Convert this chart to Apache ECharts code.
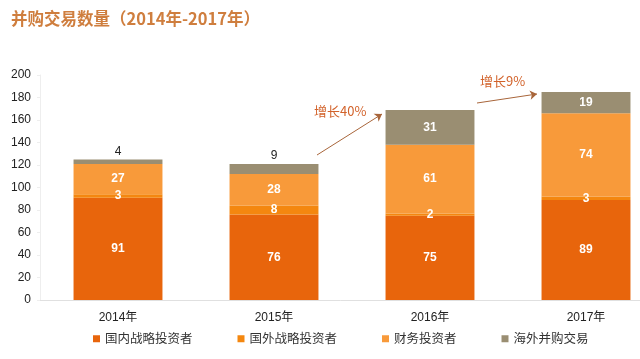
<!DOCTYPE html>
<html><head><meta charset="utf-8">
<script src="https://cdn.jsdelivr.net/npm/echarts@6/dist/echarts.min.js"></script>
<style>html,body{margin:0;padding:0;background:#fff}#c{width:640px;height:359px}</style>
</head><body><div id="c"></div>
<script>
const categories = ['2014年', '2015年', '2016年', '2017年'];
const domesticStrategic = [91, 76, 75, 89];
const foreignStrategic = [3, 8, 2, 3];
const financial = [27, 28, 61, 74];
const overseas = [4, 9, 31, 19];
const seriesNames = ['国内战略投资者', '国外战略投资者', '财务投资者', '海外并购交易'];
const colors = ['#E8650C', '#F4870F', '#F89A3A', '#9A8E72'];
const yTicks = {min: 0, max: 200, interval: 20};

const chart = echarts.init(document.getElementById('c'));
const allData = [domesticStrategic, foreignStrategic, financial, overseas];
const series = allData.map((arr, i) => ({
  name: seriesNames[i],
  type: 'bar',
  stack: 'total',
  barWidth: '57%',
  itemStyle: {color: colors[i]},
  label: {show: true, position: 'inside', color: '#fff', fontSize: 12, fontFamily: 'Liberation Sans, Arial', fontWeight: 'bold'},
  data: arr.map(v => (i === 3 && v < 10) ? {value: v, label: {position: 'top', color: '#222', fontWeight: 'normal', distance: 2}} : v)
}));
series[0].markLine = {
  silent: true,
  symbol: ['none', 'arrow'],
  symbolSize: 7,
  lineStyle: {color: '#A8653A', type: 'solid', width: 1},
  label: {show: false},
  data: [
    [{x: 317, y: 155}, {x: 382, y: 114}],
    [{x: 477, y: 103}, {x: 537, y: 94}]
  ]
};
chart.setOption({
  animation: false,
  title: {
    text: '并购交易数量（2014年-2017年）', left: 6, top: 5,
    textStyle: {color: '#CF7E3E', fontSize: 16.5, fontWeight: 'bold', fontFamily: 'Noto Sans CJK SC'}
  },
  legend: {
    bottom: 9, left: 88, itemWidth: 7, itemHeight: 7, itemGap: 45,
    icon: 'rect',
    textStyle: {color: '#333', fontSize: 12.5, fontFamily: 'Noto Sans CJK SC'},
    data: seriesNames
  },
  grid: {left: 40, width: 624, top: 75, bottom: 59, outerBoundsMode: 'none', containLabel: false},
  xAxis: {
    type: 'category', data: categories,
    axisLine: {lineStyle: {color: '#e0e0e0'}},
    axisTick: {show: false},
    axisLabel: {color: '#222', fontSize: 12, margin: 12, fontFamily: 'Liberation Sans, Noto Sans CJK SC'}
  },
  yAxis: {
    type: 'value', min: yTicks.min, max: yTicks.max, interval: yTicks.interval,
    axisLine: {show: true, lineStyle: {color: '#eeeeee'}},
    axisTick: {show: true, length: 3, lineStyle: {color: '#eeeeee'}},
    splitLine: {show: false},
    axisLabel: {color: '#222', fontSize: 12, margin: 9, fontFamily: 'Liberation Sans, Arial'}
  },
  graphic: [
    {type: 'text', left: 314, top: 105, style: {text: '增长40%', fill: '#D2622A', font: '13px "Noto Sans CJK SC"'}},
    {type: 'text', left: 480, top: 75, style: {text: '增长9%', fill: '#D2622A', font: '13px "Noto Sans CJK SC"'}}
  ],
  series: series
});
</script></body></html>
